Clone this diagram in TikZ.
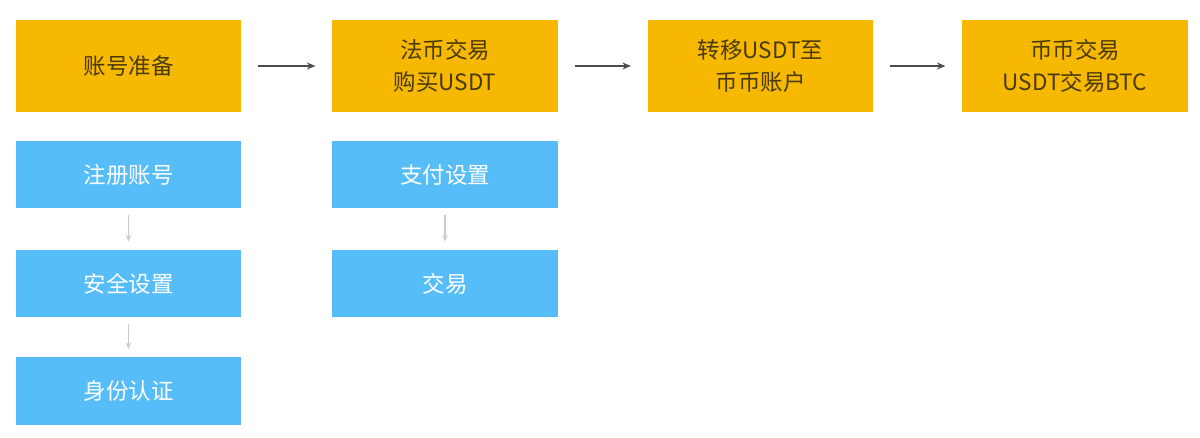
\documentclass[tikz,border=0pt]{standalone}
\usepackage{fontspec}
\setmainfont{Noto Sans CJK SC}
\usetikzlibrary{arrows.meta}
\definecolor{stepgold}{HTML}{F6B800}
\definecolor{substepblue}{HTML}{57BDF8}
\definecolor{goldtext}{HTML}{4A3A0A}
\tikzset{
  mainbox/.style={fill=stepgold,text=goldtext,minimum width=5.625cm,minimum height=2.3cm,align=center,inner sep=0pt,font=\fontsize{16}{23}\selectfont},
  subbox/.style={fill=substepblue,text=white,minimum width=5.625cm,minimum height=1.675cm,align=center,inner sep=0pt,font=\fontsize{16}{23}\selectfont},
  mainarrow/.style={-{Stealth[length=6pt,width=5pt]},draw=black!70,line width=1pt,shorten >=0.42cm,shorten <=0.42cm},
  subarrow/.style={-{Stealth[length=5pt,width=4pt]},draw=black!20,line width=0.8pt,shorten >=0.2cm,shorten <=0.18cm}
}
\begin{document}
\begin{tikzpicture}[x=0.025cm,y=-0.025cm]
\useasboundingbox (0,0) rectangle (1200,438);
\node[mainbox] (A) at (128.5,66) {账号准备};
\node[mainbox] (B) at (445,66) {法币交易\\购买USDT};
\node[mainbox] (C) at (760.5,66) {转移USDT至\\币币账户};
\node[mainbox] (D) at (1075,66) {币币交易\\USDT交易BTC};
\node[subbox] (A1) at (128.5,174.5) {注册账号};
\node[subbox] (A2) at (128.5,283.5) {安全设置};
\node[subbox] (A3) at (128.5,391) {身份认证};
\node[subbox] (B1) at (445,174.5) {支付设置};
\node[subbox] (B2) at (445,283.5) {交易};
\draw[mainarrow] (A) -- (B);
\draw[mainarrow] (B) -- (C);
\draw[mainarrow] (C) -- (D);
\draw[subarrow] (A1) -- (A2);
\draw[subarrow] (A2) -- (A3);
\draw[subarrow] (B1) -- (B2);
\end{tikzpicture}
\end{document}
